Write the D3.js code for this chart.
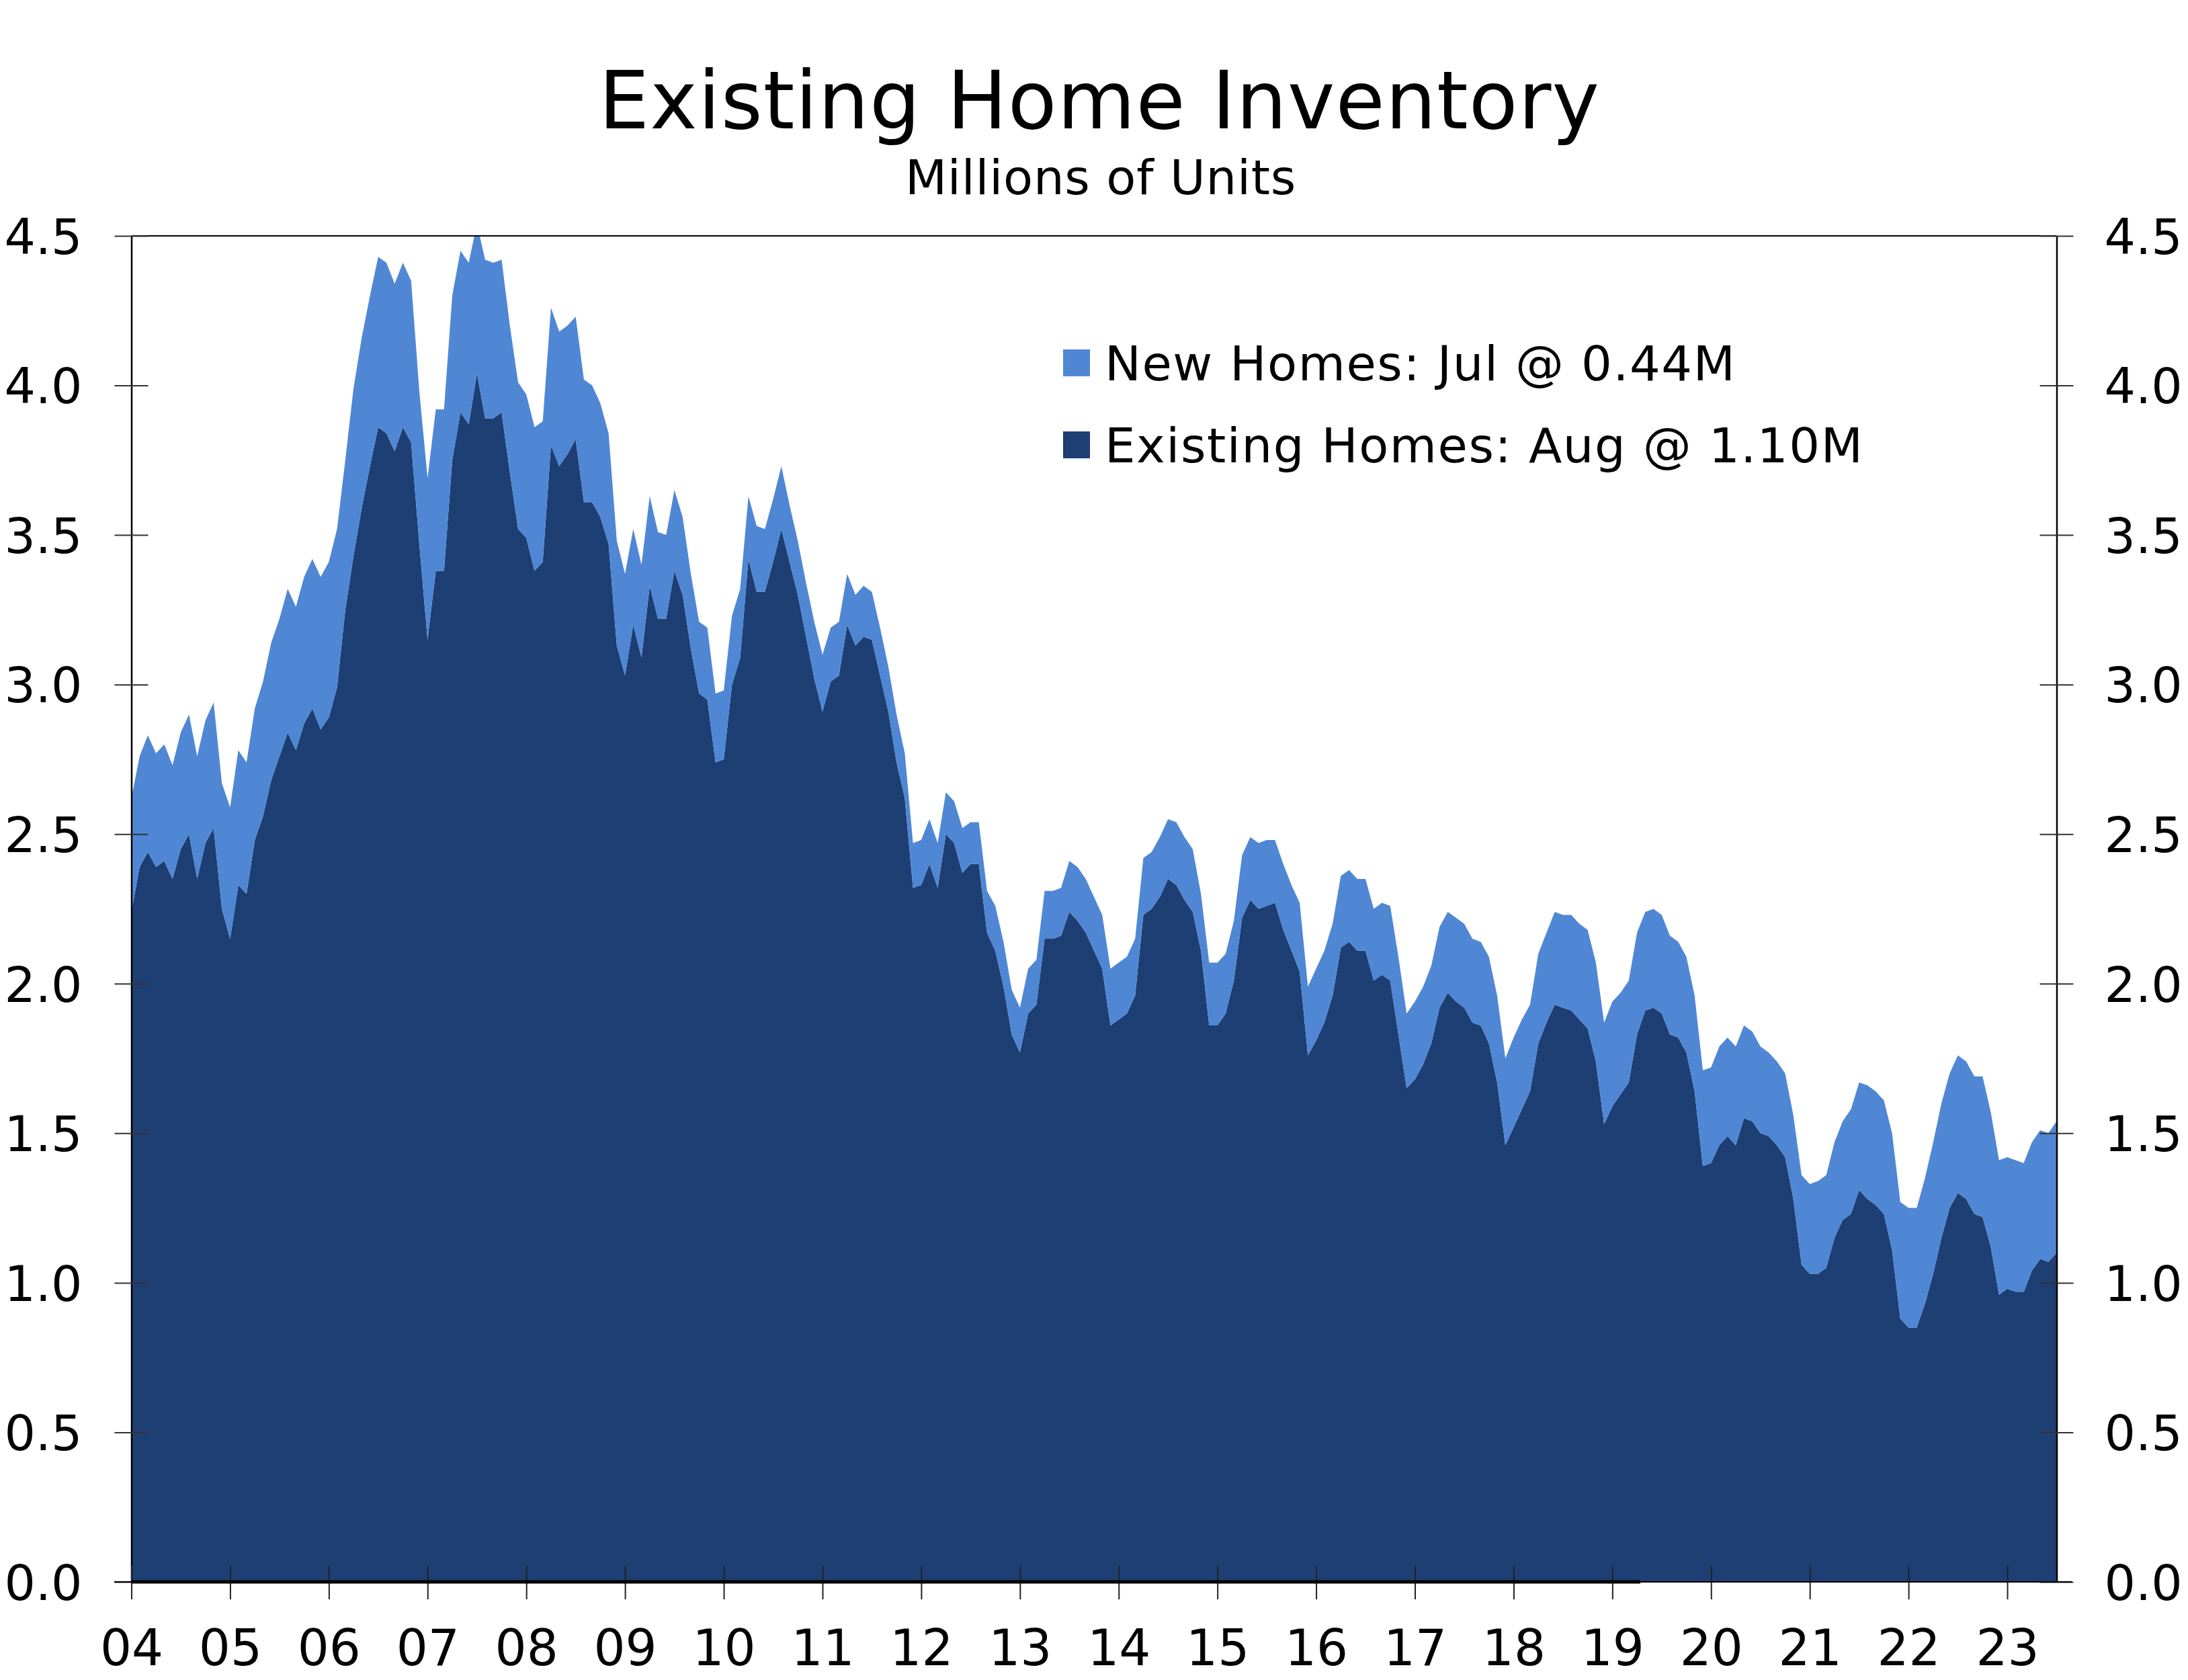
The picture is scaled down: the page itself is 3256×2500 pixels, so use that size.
<!DOCTYPE html>
<html>
<head>
<meta charset="utf-8">
<script src="https://cdn.jsdelivr.net/npm/d3@7"></script>
<style>
  html, body { margin: 0; padding: 0; background: #fff; }
  svg { display: block; font-family: "DejaVu Sans", Verdana, sans-serif; }
</style>
</head>
<body>
<svg id="chart" width="3256" height="2500"></svg>
<script>
// Monthly, Jan 2004 .. Jul 2023 (235 points), millions of units
const existingHomes = [
2.24,2.39,2.44,2.39,2.41,2.35,2.45,2.50,2.35,2.47,2.52,2.25,
2.15,2.33,2.30,2.48,2.56,2.68,2.76,2.84,2.78,2.87,2.92,2.85,
2.89,2.99,3.25,3.43,3.59,3.73,3.86,3.84,3.78,3.86,3.81,3.47,
3.15,3.38,3.38,3.75,3.91,3.87,4.04,3.89,3.89,3.91,3.71,3.52,
3.49,3.38,3.41,3.80,3.73,3.77,3.82,3.61,3.61,3.56,3.47,3.13,
3.03,3.20,3.09,3.33,3.22,3.22,3.38,3.30,3.12,2.97,2.95,2.74,
2.75,3.00,3.09,3.42,3.31,3.31,3.41,3.52,3.41,3.30,3.16,3.02,
2.91,3.01,3.03,3.20,3.13,3.16,3.15,3.03,2.91,2.74,2.62,2.32,
2.33,2.40,2.32,2.50,2.47,2.37,2.40,2.40,2.17,2.11,1.99,1.83,
1.77,1.90,1.93,2.15,2.15,2.16,2.24,2.21,2.17,2.11,2.05,1.86,
1.88,1.90,1.96,2.23,2.25,2.29,2.35,2.33,2.28,2.24,2.11,1.86,
1.86,1.90,2.01,2.22,2.28,2.25,2.26,2.27,2.18,2.11,2.04,1.76,
1.81,1.87,1.96,2.12,2.14,2.11,2.11,2.01,2.03,2.01,1.83,1.65,
1.68,1.73,1.80,1.92,1.97,1.94,1.92,1.87,1.86,1.80,1.67,1.46,
1.52,1.58,1.64,1.80,1.87,1.93,1.92,1.91,1.88,1.85,1.74,1.53,
1.59,1.63,1.67,1.83,1.91,1.92,1.90,1.83,1.82,1.77,1.64,1.39,
1.40,1.46,1.49,1.46,1.55,1.54,1.50,1.49,1.46,1.42,1.28,1.06,
1.03,1.03,1.05,1.15,1.21,1.23,1.31,1.28,1.26,1.23,1.11,0.88,
0.85,0.85,0.93,1.03,1.15,1.25,1.30,1.28,1.23,1.22,1.12,0.96,
0.98,0.97,0.97,1.04,1.08,1.07,1.10
];
const newHomes = [
0.38,0.37,0.39,0.38,0.39,0.38,0.39,0.40,0.41,0.41,0.42,0.42,
0.44,0.45,0.44,0.44,0.45,0.46,0.46,0.48,0.48,0.49,0.50,0.51,
0.52,0.53,0.50,0.56,0.57,0.57,0.57,0.57,0.56,0.55,0.54,0.51,
0.54,0.54,0.54,0.55,0.54,0.54,0.50,0.53,0.52,0.51,0.49,0.49,
0.48,0.48,0.47,0.46,0.45,0.43,0.41,0.41,0.39,0.38,0.37,0.35,
0.34,0.32,0.31,0.30,0.29,0.28,0.27,0.26,0.25,0.24,0.24,0.23,
0.23,0.23,0.23,0.21,0.22,0.21,0.21,0.21,0.19,0.18,0.18,0.19,
0.19,0.18,0.18,0.17,0.17,0.17,0.16,0.16,0.15,0.16,0.15,0.15,
0.15,0.15,0.15,0.14,0.14,0.15,0.14,0.14,0.14,0.15,0.15,0.15,
0.15,0.15,0.15,0.16,0.16,0.16,0.17,0.18,0.18,0.18,0.18,0.19,
0.19,0.19,0.19,0.19,0.19,0.20,0.20,0.21,0.21,0.21,0.19,0.21,
0.21,0.20,0.20,0.21,0.21,0.22,0.22,0.21,0.22,0.22,0.23,0.23,
0.24,0.24,0.24,0.24,0.24,0.24,0.24,0.24,0.24,0.25,0.26,0.25,
0.26,0.26,0.26,0.27,0.27,0.28,0.28,0.28,0.28,0.29,0.29,0.29,
0.30,0.30,0.29,0.30,0.30,0.31,0.31,0.32,0.32,0.33,0.33,0.34,
0.35,0.34,0.34,0.34,0.33,0.33,0.33,0.33,0.32,0.32,0.32,0.32,
0.32,0.33,0.33,0.33,0.31,0.30,0.29,0.28,0.28,0.28,0.28,0.30,
0.30,0.31,0.31,0.32,0.33,0.35,0.36,0.38,0.38,0.38,0.39,0.39,
0.40,0.40,0.42,0.44,0.45,0.45,0.46,0.46,0.46,0.47,0.45,0.45,
0.44,0.44,0.43,0.43,0.43,0.43,0.44
];
const yearLabels = ["04","05","06","07","08","09","10","11","12","13","14","15","16","17","18","19","20","21","22","23"];
const yTicks = [0.0,0.5,1.0,1.5,2.0,2.5,3.0,3.5,4.0,4.5];
const legendLabels = ["New Homes: Jul @ 0.44M", "Existing Homes: Aug @ 1.10M"];
const seriesKeys = ["existing", "new"];
const colors = { existing: "#1E3F74", new: "#4F87D5" };

(function () {
const pL = 195.5, pR = 3060.5, pT = 351, pB = 2354;
const svg = d3.select("#chart");

const rows = existingHomes.map((v, i) => ({ i, existing: v, new: newHomes[i] }));
const x = d3.scaleLinear().domain([0, rows.length - 1]).range([pL, pR]);
const y = d3.scaleLinear().domain([0, 4.5]).range([pB, pT]);

const stacked = d3.stack().keys(seriesKeys)(rows);

svg.append("defs").append("clipPath").attr("id", "plotclip")
  .append("rect").attr("x", pL).attr("y", pT).attr("width", pR - pL).attr("height", pB - pT);

const area = d3.area()
  .x(d => x(d.data.i))
  .y0(d => y(d[0]))
  .y1(d => y(d[1]));

svg.append("g").attr("clip-path", "url(#plotclip)")
  .selectAll("path").data(stacked).join("path")
  .attr("d", area)
  .attr("fill", d => colors[d.key]);

// Frame: top border
svg.append("line").attr("x1", pL).attr("x2", pR).attr("y1", pT).attr("y2", pT)
  .attr("stroke", "#000").attr("stroke-width", 2);

const yAxisL = d3.axisLeft(y).tickValues(yTicks).tickFormat(d3.format(".1f")).tickSize(0);
const yAxisR = d3.axisRight(y).tickValues(yTicks).tickFormat(d3.format(".1f")).tickSize(0);

const gL = svg.append("g").attr("transform", `translate(${pL},0)`).call(yAxisL);
const gR = svg.append("g").attr("transform", `translate(${pR},0)`).call(yAxisR);
[gL, gR].forEach(g => {
  g.select(".domain").attr("stroke", "#000").attr("stroke-width", 2.5);
  g.selectAll("text").attr("font-size", 73).attr("fill", "#000")
    .attr("font-family", "'DejaVu Sans', Verdana, sans-serif").attr("dy", "0.36em");
  g.selectAll(".tick line").attr("x1", -25).attr("x2", 25).attr("stroke", "#333").attr("stroke-width", 2);
});
gL.selectAll(".tick text").attr("x", -73).attr("text-anchor", "end");
gR.selectAll(".tick text").attr("x", 71).attr("text-anchor", "start");

// X axis
const yearIdx = yearLabels.map((_, k) => k * 12);
const xAxis = d3.axisBottom(x).tickValues(yearIdx)
  .tickFormat((d, k) => yearLabels[k]).tickSize(0);
const gX = svg.append("g").attr("transform", `translate(0,${pB})`).call(xAxis);
gX.select(".domain").remove();
gX.selectAll(".tick line").attr("y1", -24).attr("y2", 26).attr("stroke", "#222").attr("stroke-width", 2);
gX.selectAll(".tick text").attr("font-size", 74).attr("fill", "#000")
  .attr("font-family", "'DejaVu Sans', Verdana, sans-serif").attr("y", 124).attr("dy", 0);

// baseline lines
svg.append("line").attr("x1", 170).attr("x2", 3083).attr("y1", pB).attr("y2", pB)
  .attr("stroke", "#000").attr("stroke-width", 2);
svg.append("line").attr("x1", pL).attr("x2", x(183.4)).attr("y1", pB).attr("y2", pB)
  .attr("stroke", "#000").attr("stroke-width", 5);

// Titles
svg.append("text").attr("x", 1636).attr("y", 191).attr("text-anchor", "middle")
  .attr("font-size", 119).attr("letter-spacing", 1).attr("fill", "#000").text("Existing Home Inventory");
svg.append("text").attr("x", 1638).attr("y", 289).attr("text-anchor", "middle")
  .attr("font-size", 72).attr("letter-spacing", 0.8).attr("fill", "#000").text("Millions of Units");

// Legend
const legendItems = [
  { label: legendLabels[0], key: "new", y: 520 },
  { label: legendLabels[1], key: "existing", y: 642 }
];
const lg = svg.append("g");
legendItems.forEach(it => {
  lg.append("rect").attr("x", 1582).attr("y", it.y).attr("width", 40).attr("height", 40).attr("fill", colors[it.key]);
  lg.append("text").attr("x", 1644).attr("y", it.y + 46).attr("font-size", 72)
    .attr("letter-spacing", 1.6).attr("fill", "#000").text(it.label);
});
})();
</script>
</body>
</html>
